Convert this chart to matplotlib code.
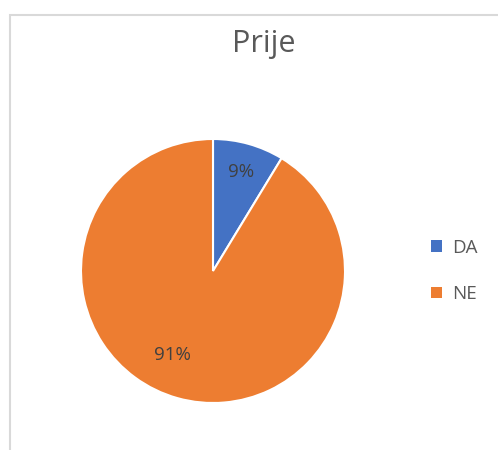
import matplotlib.pyplot as plt
from matplotlib.patches import Patch, Rectangle

title = "Prije"
categories = ["DA", "NE"]
values = [8.7, 91.3]
colors = ["#4472C4", "#ED7D31"]

plt.rcParams['font.family'] = ['Open Sans', 'DejaVu Sans']
text_color = "#595959"

fig = plt.figure(figsize=(4.98, 4.5), dpi=100)
W, H = 498, 450

# chart area border (runs off the right/bottom of the crop)
fig.patches.append(Rectangle((9.5 / W, -0.1), 1.2, (H - 14.5) / H + 0.1,
                             transform=fig.transFigure, fill=False,
                             edgecolor="#D9D9D9", linewidth=1.5))

cx, cy, r = 213, 271, 132
ax = fig.add_axes([(cx - r) / W, (H - cy - r) / H, 2 * r / W, 2 * r / H])
wedges, texts, autotexts = ax.pie(
    values, colors=colors, startangle=90, counterclock=False,
    autopct=lambda p: f"{p:.0f}%", pctdistance=0.78,
    wedgeprops=dict(edgecolor="white", linewidth=1.5),
    textprops=dict(color="#404040", fontsize=13.5))
# Excel puts the big label a bit further in
autotexts[1].set_position((-0.31, -0.64))
ax.set_xlim(-1, 1)
ax.set_ylim(-1, 1)
ax.set_aspect('equal')

fig.text(264 / W, 1 - 44 / H, title, ha='center', va='center',
         fontsize=22, color=text_color)

handles = [Patch(facecolor=c, edgecolor='none', label=l) for c, l in zip(colors, categories)]
fig.legend(handles=handles, loc='center left', bbox_to_anchor=(418 / W, 1 - 271 / H),
           frameon=False, fontsize=13.5, labelcolor=text_color,
           handlelength=0.6, handleheight=0.6, handletextpad=0.5,
           labelspacing=1.5, borderpad=0.2)

fig.savefig("out.png", dpi=100)
